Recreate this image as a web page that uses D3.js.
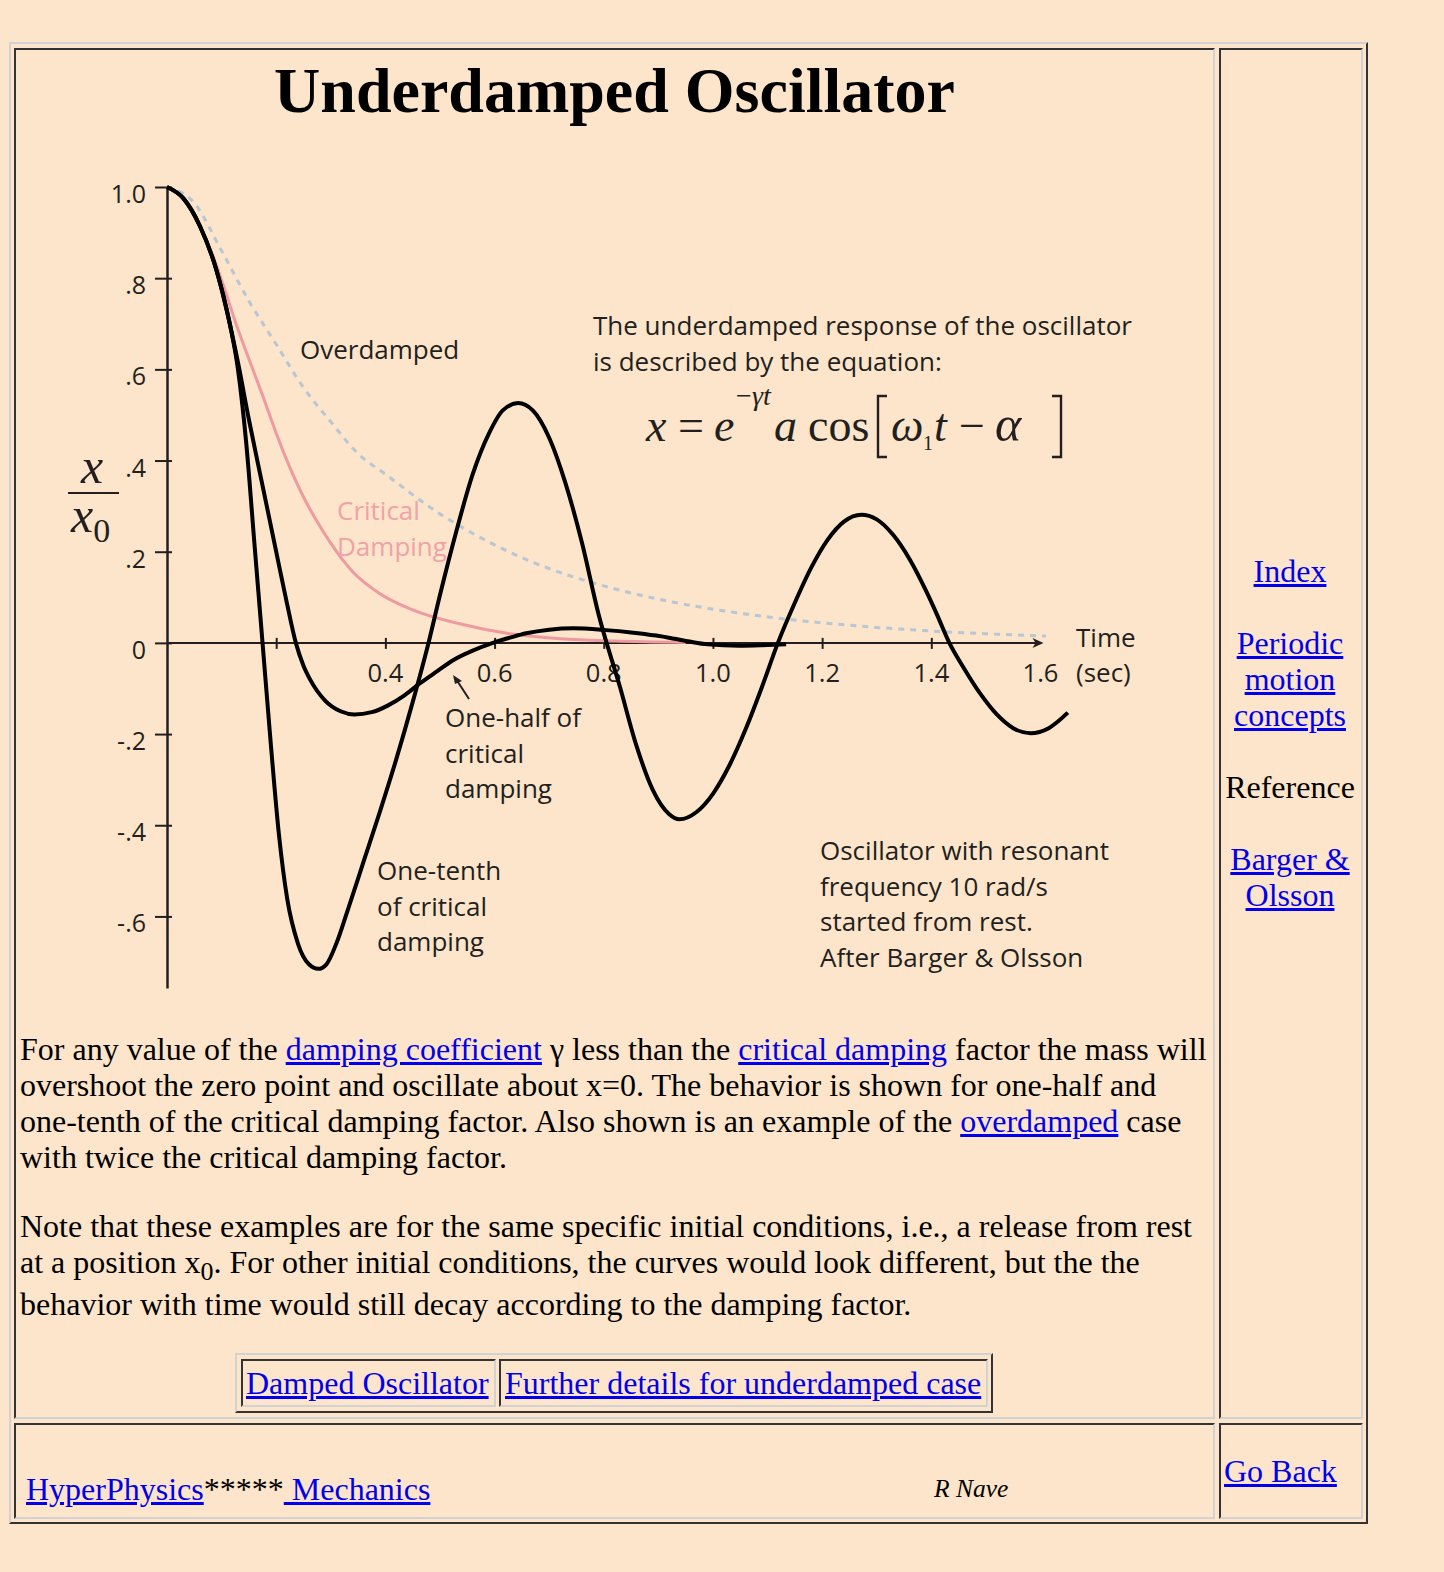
<!DOCTYPE html>
<html><head><meta charset="utf-8">
<script src="https://cdn.jsdelivr.net/npm/d3@7"></script>
<style>
html,body{margin:0;padding:0;background:#fce5ca;}
body{width:1444px;height:1572px;position:relative;overflow:hidden;font-family:"Liberation Serif","Times New Roman",serif;font-size:32px;color:#000;}
.box{position:absolute;box-sizing:border-box;border-style:solid;border-width:2px;}
.out{border-color:#d2d2d2 #333 #333 #d2d2d2;}
.in{border-color:#333 #d2d2d2 #d2d2d2 #333;}
.t{position:absolute;white-space:nowrap;line-height:36px;}
.side{left:1190px;width:200px;text-align:center;}
a{color:#0000ee;text-decoration:underline;}
#chart{position:absolute;left:0;top:0;}
</style></head>
<body>
<div class="box out" style="left:9px;top:42px;width:1359px;height:1482px;"></div>
<div class="box in" style="left:14px;top:48px;width:1201px;height:1371px;"></div>
<div class="box in" style="left:1219px;top:48px;width:144px;height:1371px;"></div>
<div class="box in" style="left:14px;top:1423px;width:1201px;height:96px;"></div>
<div class="box in" style="left:1219px;top:1423px;width:144px;height:96px;"></div>

<div class="t" style="left:14px;width:1201px;text-align:center;top:59px;font-size:64px;line-height:64px;font-weight:bold;">Underdamped Oscillator</div>

<div class="t" style="left:20px;top:1031px;">For any value of the <a href="#">damping coefficient</a> γ less than the <a href="#">critical damping</a> factor the mass will</div>
<div class="t" style="left:20px;top:1067px;">overshoot the zero point and oscillate about x=0. The behavior is shown for one-half and</div>
<div class="t" style="left:20px;top:1103px;">one-tenth of the critical damping factor. Also shown is an example of the <a href="#">overdamped</a> case</div>
<div class="t" style="left:20px;top:1139px;">with twice the critical damping factor.</div>
<div class="t" style="left:20px;top:1208px;">Note that these examples are for the same specific initial conditions, i.e., a release from rest</div>
<div class="t" style="left:20px;top:1244px;">at a position x<sub style="font-size:26px;line-height:0;">0</sub>. For other initial conditions, the curves would look different, but the the</div>
<div class="t" style="left:20px;top:1286px;">behavior with time would still decay according to the damping factor.</div>

<div class="box out" style="left:235px;top:1353px;width:758px;height:60px;"></div>
<div class="box in" style="left:241px;top:1359px;width:255px;height:48px;"></div>
<div class="box in" style="left:499px;top:1359px;width:489px;height:48px;"></div>
<div class="t" style="left:246px;top:1365px;"><a href="#">Damped Oscillator</a></div>
<div class="t" style="left:505px;top:1365px;"><a href="#">Further details for underdamped case</a></div>

<div class="t side" style="top:553px;"><a href="#">Index</a></div>
<div class="t side" style="top:625px;"><a href="#">Periodic</a></div>
<div class="t side" style="top:661px;"><a href="#">motion</a></div>
<div class="t side" style="top:697px;"><a href="#">concepts</a></div>
<div class="t side" style="top:769px;">Reference</div>
<div class="t side" style="top:841px;"><a href="#">Barger &amp;</a></div>
<div class="t side" style="top:877px;"><a href="#">Olsson</a></div>

<div class="t" style="left:26px;top:1471px;"><a href="#">HyperPhysics</a>*****<a href="#"> Mechanics</a></div>
<div class="t" style="left:934px;top:1474px;font-size:25.5px;line-height:30px;font-style:italic;">R Nave</div>
<div class="t" style="left:1224px;top:1453px;"><a href="#">Go Back</a></div>

<svg id="chart" width="1444" height="1010"></svg>

<script>
// ---- data ----
const yTickValues = [1.0, 0.8, 0.6, 0.4, 0.2, 0, -0.2, -0.4, -0.6];
const yTickLabels = ["1.0", ".8", ".6", ".4", ".2", "0", "-.2", "-.4", "-.6"];
const xTickValues = [0.2, 0.4, 0.6, 0.8, 1.0, 1.2, 1.4];
const xLabelValues = [0.4, 0.6, 0.8, 1.0, 1.2, 1.4, 1.6];
const xLabelTexts = ["0.4", "0.6", "0.8", "1.0", "1.2", "1.4", "1.6"];

const overT = [0, 0.05, 0.1, 0.15, 0.2, 0.25, 0.3, 0.35, 0.4, 0.5, 0.6, 0.7, 0.8, 0.9, 1.0, 1.1, 1.2, 1.3, 1.4, 1.5, 1.61];
const overV = [1.0, 0.965, 0.86, 0.75, 0.655, 0.56, 0.485, 0.415, 0.37, 0.283, 0.215, 0.163, 0.125, 0.096, 0.074, 0.057, 0.044, 0.034, 0.026, 0.020, 0.015];

const critT = [0, 0.03, 0.06, 0.09, 0.11, 0.125, 0.14, 0.176, 0.2, 0.225, 0.25, 0.273, 0.298, 0.32, 0.341, 0.39, 0.451, 0.536, 0.628, 0.72, 0.82, 0.95];
const critV = [1.0, 0.975, 0.915, 0.83, 0.76, 0.705, 0.655, 0.54, 0.46, 0.385, 0.32, 0.27, 0.222, 0.185, 0.155, 0.108, 0.072, 0.042, 0.020, 0.009, 0.004, 0.001];

const halfT = [0, 0.03, 0.06, 0.09, 0.115, 0.13, 0.15, 0.175, 0.2, 0.22, 0.236, 0.25, 0.262, 0.29, 0.318, 0.343, 0.375, 0.405, 0.435, 0.463, 0.495, 0.524, 0.56, 0.597, 0.63, 0.658, 0.70, 0.744, 0.804, 0.85, 0.896, 0.93, 0.957, 0.99, 1.048, 1.09, 1.134];
const halfV = [1.0, 0.975, 0.915, 0.82, 0.70, 0.615, 0.49, 0.345, 0.20, 0.085, 0.0, -0.05, -0.08, -0.127, -0.15, -0.157, -0.152, -0.137, -0.115, -0.089, -0.062, -0.038, -0.017, 0.0, 0.012, 0.021, 0.029, 0.032, 0.028, 0.023, 0.016, 0.009, 0.003, -0.003, -0.006, -0.005, -0.003];

const tenthT = [0, 0.03, 0.06, 0.09, 0.115, 0.13, 0.145, 0.16, 0.175, 0.19, 0.205, 0.22, 0.24, 0.26, 0.277, 0.292, 0.31, 0.33, 0.36, 0.39, 0.42, 0.45, 0.479, 0.50, 0.53, 0.56, 0.59, 0.615, 0.643, 0.67, 0.70, 0.73, 0.76, 0.79, 0.83, 0.86, 0.89, 0.92, 0.939, 0.97, 1.0, 1.03, 1.06, 1.09, 1.119, 1.15, 1.18, 1.21, 1.24, 1.272, 1.30, 1.33, 1.36, 1.39, 1.41, 1.433, 1.46, 1.49, 1.52, 1.55, 1.582, 1.615, 1.65];
const tenthV = [1.0, 0.975, 0.915, 0.82, 0.70, 0.60, 0.44, 0.22, 0.0, -0.22, -0.42, -0.56, -0.66, -0.705, -0.715, -0.705, -0.66, -0.59, -0.48, -0.37, -0.255, -0.13, 0.0, 0.105, 0.245, 0.37, 0.46, 0.51, 0.526, 0.51, 0.45, 0.35, 0.22, 0.065, -0.098, -0.226, -0.323, -0.376, -0.387, -0.371, -0.331, -0.269, -0.189, -0.096, 0.0, 0.088, 0.165, 0.226, 0.266, 0.281, 0.271, 0.237, 0.184, 0.115, 0.063, 0.0, -0.056, -0.112, -0.157, -0.187, -0.198, -0.187, -0.153];

// ---- drawing ----
const svg = d3.select("#chart");
const x = d3.scaleLinear().domain([0, 1.6]).range([167, 1040.5]);
const y = d3.scaleLinear().domain([-0.757, 1]).range([988, 187]);
const ink = "#231f20";
const sans = "'Open Sans', 'Noto Sans', sans-serif";
const serif = "'Liberation Serif', 'Times New Roman', serif";

// y axis
const yAxis = svg.append("g").attr("transform", `translate(${x(0)},0)`)
  .call(d3.axisLeft(y).tickValues(yTickValues).tickFormat((d, i) => yTickLabels[i]).tickSizeInner(12).tickSizeOuter(0));
yAxis.select(".domain").attr("stroke", ink).attr("stroke-width", 2.5);
yAxis.selectAll(".tick line").attr("stroke", ink).attr("stroke-width", 2).attr("x1", 5).attr("x2", -12);
yAxis.selectAll(".tick text").attr("fill", ink).attr("font-family", sans).attr("font-size", 25).attr("dy", "0.62em").attr("x", -21);

// x axis
const xAxis = svg.append("g").attr("transform", `translate(0,${y(0)})`)
  .call(d3.axisBottom(x).tickValues(xTickValues).tickFormat("").tickSizeInner(6).tickSizeOuter(0));
xAxis.select(".domain").attr("stroke", ink).attr("stroke-width", 2).attr("d", `M${x(0)},0H${x(1.6) - 2}`);
xAxis.selectAll(".tick line").attr("stroke", ink).attr("stroke-width", 2).attr("y1", -5).attr("y2", 6);
svg.append("path").attr("fill", ink)
  .attr("d", `M${x(1.6) + 3},${y(0)}L${x(1.6) - 8},${y(0) - 5}L${x(1.6) - 5},${y(0)}L${x(1.6) - 8},${y(0) + 5}Z`);
svg.append("g").selectAll("text").data(xLabelValues).join("text")
  .attr("x", d => x(d)).attr("y", y(0) + 39).attr("text-anchor", "middle")
  .attr("font-family", sans).attr("font-size", 25.5).attr("fill", ink)
  .text((d, i) => xLabelTexts[i]);
svg.append("text").attr("x", 1076).attr("y", 647).attr("font-family", sans).attr("font-size", 26).attr("fill", ink).text("Time");
svg.append("text").attr("x", 1076).attr("y", 682).attr("font-family", sans).attr("font-size", 26).attr("fill", ink).text("(sec)");

// curves
const line = d3.line().x(d => x(d[0])).y(d => y(d[1])).curve(d3.curveMonotoneX);
svg.append("path").datum(d3.zip(overT, overV)).attr("d", line).attr("fill", "none")
  .attr("stroke", "#b9c6d3").attr("stroke-width", 3).attr("stroke-dasharray", "6,6");
svg.append("path").datum(d3.zip(critT, critV)).attr("d", line).attr("fill", "none")
  .attr("stroke", "#ee9aa0").attr("stroke-width", 3);
svg.append("path").datum(d3.zip(halfT, halfV)).attr("d", line).attr("fill", "none")
  .attr("stroke", "#000").attr("stroke-width", 4).attr("stroke-linejoin", "round");
svg.append("path").datum(d3.zip(tenthT, tenthV)).attr("d", line).attr("fill", "none")
  .attr("stroke", "#000").attr("stroke-width", 4).attr("stroke-linejoin", "round");

// annotation arrow
svg.append("line").attr("x1", 469).attr("y1", 699).attr("x2", 456).attr("y2", 679).attr("stroke", ink).attr("stroke-width", 2);
svg.append("path").attr("fill", ink).attr("d", "M453,675L462,681L455,684Z");

// labels
function lines(x0, y0, arr, color) {
  arr.forEach((s, i) => svg.append("text").attr("x", x0).attr("y", y0 + i * 35.5)
    .attr("font-family", sans).attr("font-size", 26).attr("fill", color || ink).text(s));
}
lines(300, 359, ["Overdamped"]);
lines(337, 520, ["Critical", "Damping"], "#f0a2a8");
lines(593, 335, ["The underdamped response of the oscillator", "is described by the equation:"]);
lines(445, 727, ["One-half of", "critical", "damping"]);
lines(377, 880, ["One-tenth", "of critical", "damping"]);
lines(820, 860, ["Oscillator with resonant", "frequency 10 rad/s", "started from rest.", "After Barger & Olsson"]);

// equation  x = e^{-γt} a cos[ω1 t − α]
const eqBase = 441;
function eqPart(px, txt, opt) {
  opt = opt || {};
  svg.append("text").attr("x", px).attr("y", opt.y || eqBase)
    .attr("font-family", serif).attr("font-size", opt.size || 46)
    .attr("font-style", opt.italic ? "italic" : "normal").attr("fill", ink).text(txt);
}
eqPart(646, "x", {italic: true});
eqPart(678, "=");
eqPart(714, "e", {italic: true});
eqPart(736, "\u2212", {size: 28, y: 405});
eqPart(752, "\u03b3t", {size: 28, y: 405, italic: true});
eqPart(774, "a", {italic: true});
eqPart(808, "cos");
eqPart(891, "\u03c9", {italic: true});
eqPart(923, "1", {size: 20, y: 450});
eqPart(934, "t", {italic: true});
eqPart(959, "\u2212");
eqPart(995, "\u03b1", {italic: true, size: 50});
// thin tall brackets
svg.append("path").attr("fill", "none").attr("stroke", ink).attr("stroke-width", 2.4)
  .attr("d", "M887,396H878V457H887");
svg.append("path").attr("fill", "none").attr("stroke", ink).attr("stroke-width", 2.4)
  .attr("d", "M1052,396H1061V457H1052");

// y label x / x0
svg.append("text").attr("x", 81).attr("y", 483).attr("font-family", serif).attr("font-size", 50).attr("font-style", "italic").attr("fill", ink).text("x");
svg.append("line").attr("x1", 68).attr("x2", 119).attr("y1", 493).attr("y2", 493).attr("stroke", ink).attr("stroke-width", 2);
const xo = svg.append("text").attr("x", 71).attr("y", 532).attr("font-family", serif).attr("font-size", 50).attr("fill", ink);
xo.append("tspan").attr("font-style", "italic").text("x");
xo.append("tspan").attr("dy", 10).attr("font-size", 34).text("0");
</script>
</body></html>
